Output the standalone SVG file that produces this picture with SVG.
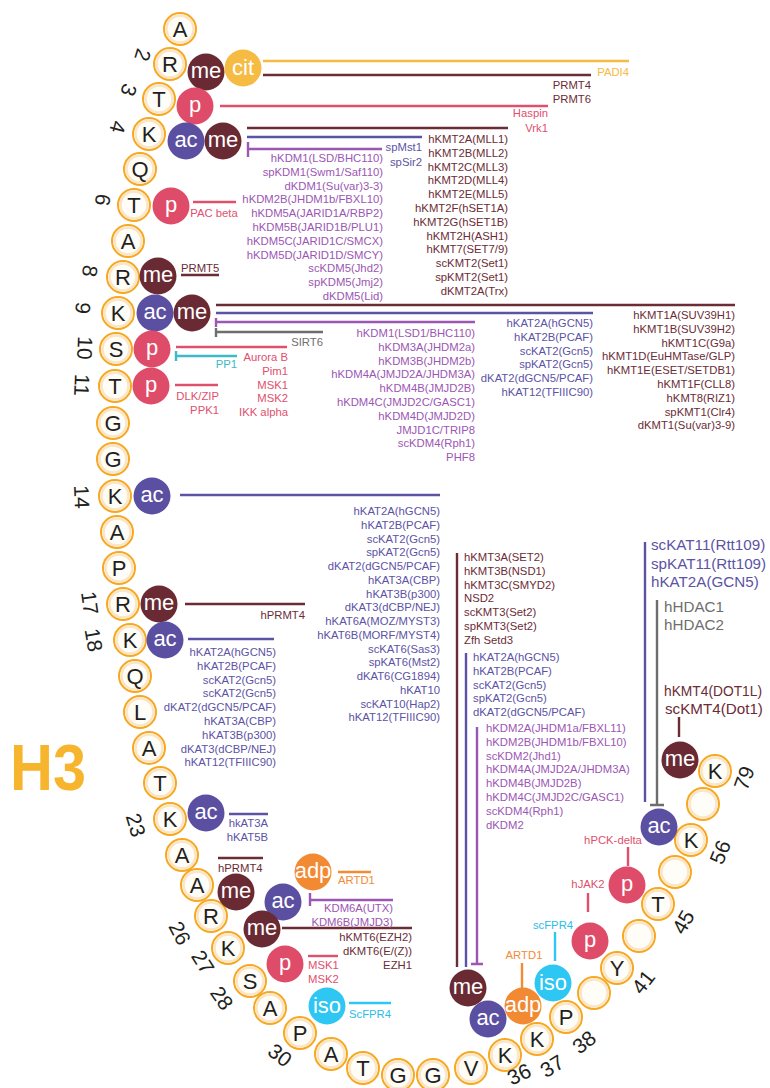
<svg xmlns="http://www.w3.org/2000/svg" xmlns:xlink="http://www.w3.org/1999/xlink" width="770" height="1088" viewBox="0 0 770 1088">
<style>
.ro{fill:#FFFDF8;stroke:#F6A821;stroke-width:2}
.ri{fill:none;stroke:#FCE5C4;stroke-width:2.5}
.rl{font-family:"Liberation Sans",Arial,sans-serif;font-size:22px;fill:#231F20;text-anchor:middle}
.num{font-family:"Liberation Sans",Arial,sans-serif;font-size:21px;fill:#231F20;text-anchor:middle;dominant-baseline:central}
.mt{font-family:"Liberation Sans",Arial,sans-serif;font-size:22px;fill:#fff;text-anchor:middle}
.me{fill:#692A33}.ac{fill:#5B4FA1}.p{fill:#DE4C69}.cit{fill:#F6BB43}.adp{fill:#F28A34}.iso{fill:#2EC6F2}
.lbl{font-family:"Liberation Sans",Arial,sans-serif;font-size:11.3px}
.big{font-family:"Liberation Sans",Arial,sans-serif;font-size:15.2px}
.e{text-anchor:end}.m{text-anchor:middle}
.tm{fill:#6B2C35}.tp{fill:#5C53A5}.tl{fill:#9C56B4}.tr{fill:#E0506D}.tg{fill:#6E6E6E}.tc{fill:#2BBDE8}.tt{fill:#3CBAC6}.to{fill:#F28B33}.ty{fill:#F6BB42}
.c{fill:none;stroke-width:2.4}
.sm{stroke:#6B2C35}.sp{stroke:#5C53A5}.sl{stroke:#9C56B4}.sr{stroke:#E0506D}.sg{stroke:#6E6E6E}.sc{stroke:#2EC6F2}.st{stroke:#3CBAC6}.so{stroke:#F28B33}.sy{stroke:#F6BB42}
</style>
<defs>
<g id="ring"><circle class="ro" r="16"/><circle class="ri" r="13.5"/></g>
</defs>

<text id="title" x="10" y="790" font-family="Liberation Sans, Arial, sans-serif" font-weight="bold" font-size="64" fill="#F7B52D" textLength="76" lengthAdjust="spacingAndGlyphs">H3</text>

<g id="residues">
<g id="r1"><use xlink:href="#ring" x="180" y="29"/><text class="rl" x="180" y="37">A</text></g>
<g id="r2"><use xlink:href="#ring" x="170" y="64"/><text class="rl" x="170" y="72">R</text><text class="num" x="143" y="55" transform="rotate(107 143 55)">2</text></g>
<g id="r3"><use xlink:href="#ring" x="159" y="99"/><text class="rl" x="159" y="107">T</text><text class="num" x="129" y="90" transform="rotate(107 129 90)">3</text></g>
<g id="r4"><use xlink:href="#ring" x="149" y="134"/><text class="rl" x="149" y="142">K</text><text class="num" x="118" y="127" transform="rotate(105 118 127)">4</text></g>
<g id="r5"><use xlink:href="#ring" x="140" y="169"/><text class="rl" x="140" y="177">Q</text></g>
<g id="r6"><use xlink:href="#ring" x="134" y="205"/><text class="rl" x="134" y="213">T</text><text class="num" x="103" y="200" transform="rotate(99 103 200)">6</text></g>
<g id="r7"><use xlink:href="#ring" x="128" y="241"/><text class="rl" x="128" y="249">A</text></g>
<g id="r8"><use xlink:href="#ring" x="123" y="277"/><text class="rl" x="123" y="285">R</text><text class="num" x="90" y="271" transform="rotate(98 90 271)">8</text></g>
<g id="r9"><use xlink:href="#ring" x="118" y="313"/><text class="rl" x="118" y="321">K</text><text class="num" x="83" y="308" transform="rotate(96 83 308)">9</text></g>
<g id="r10"><use xlink:href="#ring" x="116" y="349"/><text class="rl" x="116" y="357">S</text><text class="num" x="85" y="348" transform="rotate(92 85 348)">10</text></g>
<g id="r11"><use xlink:href="#ring" x="115" y="386"/><text class="rl" x="115" y="394">T</text><text class="num" x="82" y="385" transform="rotate(92 82 385)">11</text></g>
<g id="r12"><use xlink:href="#ring" x="113" y="423"/><text class="rl" x="113" y="431">G</text></g>
<g id="r13"><use xlink:href="#ring" x="113" y="459"/><text class="rl" x="113" y="467">G</text></g>
<g id="r14"><use xlink:href="#ring" x="115" y="496"/><text class="rl" x="115" y="504">K</text><text class="num" x="82" y="497" transform="rotate(88 82 497)">14</text></g>
<g id="r15"><use xlink:href="#ring" x="117" y="532"/><text class="rl" x="117" y="540">A</text></g>
<g id="r16"><use xlink:href="#ring" x="119" y="568"/><text class="rl" x="119" y="576">P</text></g>
<g id="r17"><use xlink:href="#ring" x="123" y="604"/><text class="rl" x="123" y="612">R</text><text class="num" x="90" y="603" transform="rotate(82 90 603)">17</text></g>
<g id="r18"><use xlink:href="#ring" x="130" y="640"/><text class="rl" x="130" y="648">K</text><text class="num" x="94" y="640" transform="rotate(80 94 640)">18</text></g>
<g id="r19"><use xlink:href="#ring" x="135" y="676"/><text class="rl" x="135" y="684">Q</text></g>
<g id="r20"><use xlink:href="#ring" x="140" y="712"/><text class="rl" x="140" y="720">L</text></g>
<g id="r21"><use xlink:href="#ring" x="149" y="748"/><text class="rl" x="149" y="756">A</text></g>
<g id="r22"><use xlink:href="#ring" x="160" y="783"/><text class="rl" x="160" y="791">T</text></g>
<g id="r23"><use xlink:href="#ring" x="170" y="819"/><text class="rl" x="170" y="827">K</text><text class="num" x="136" y="825" transform="rotate(73 136 825)">23</text></g>
<g id="r24"><use xlink:href="#ring" x="182" y="855"/><text class="rl" x="182" y="863">A</text></g>
<g id="r25"><use xlink:href="#ring" x="197" y="885"/><text class="rl" x="197" y="893">A</text></g>
<g id="r26"><use xlink:href="#ring" x="211" y="916"/><text class="rl" x="211" y="924">R</text><text class="num" x="180" y="933" transform="rotate(62 180 933)">26</text></g>
<g id="r27"><use xlink:href="#ring" x="228" y="948"/><text class="rl" x="228" y="956">K</text><text class="num" x="203" y="962" transform="rotate(58 203 962)">27</text></g>
<g id="r28"><use xlink:href="#ring" x="250" y="981"/><text class="rl" x="250" y="989">S</text><text class="num" x="222" y="998" transform="rotate(55 222 998)">28</text></g>
<g id="r29"><use xlink:href="#ring" x="270" y="1008"/><text class="rl" x="270" y="1016">A</text></g>
<g id="r30"><use xlink:href="#ring" x="300" y="1033"/><text class="rl" x="300" y="1041">P</text><text class="num" x="280" y="1055" transform="rotate(38 280 1055)">30</text></g>
<g id="r31"><use xlink:href="#ring" x="331" y="1054"/><text class="rl" x="331" y="1062">A</text></g>
<g id="r32"><use xlink:href="#ring" x="363" y="1068"/><text class="rl" x="363" y="1076">T</text></g>
<g id="r33"><use xlink:href="#ring" x="398" y="1075"/><text class="rl" x="398" y="1083">G</text></g>
<g id="r34"><use xlink:href="#ring" x="433" y="1075"/><text class="rl" x="433" y="1083">G</text></g>
<g id="r35"><use xlink:href="#ring" x="471" y="1068"/><text class="rl" x="471" y="1076">V</text></g>
<g id="r36"><use xlink:href="#ring" x="505" y="1055"/><text class="rl" x="505" y="1063">K</text><text class="num" x="519" y="1074" transform="rotate(-25 519 1074)">36</text></g>
<g id="r37"><use xlink:href="#ring" x="537" y="1039"/><text class="rl" x="537" y="1047">K</text><text class="num" x="552" y="1066" transform="rotate(-32 552 1066)">37</text></g>
<g id="r38"><use xlink:href="#ring" x="566" y="1017"/><text class="rl" x="566" y="1025">P</text><text class="num" x="584" y="1042" transform="rotate(-38 584 1042)">38</text></g>
<g id="gap1"><use xlink:href="#ring" x="594" y="993"/></g>
<g id="r41"><use xlink:href="#ring" x="617" y="968"/><text class="rl" x="617" y="976">Y</text><text class="num" x="643" y="982" transform="rotate(-52 643 982)">41</text></g>
<g id="gap2"><use xlink:href="#ring" x="639" y="936"/></g>
<g id="r45"><use xlink:href="#ring" x="658" y="904"/><text class="rl" x="658" y="912">T</text><text class="num" x="683" y="922" transform="rotate(-60 683 922)">45</text></g>
<g id="gap3"><use xlink:href="#ring" x="675" y="872"/></g>
<g id="r56"><use xlink:href="#ring" x="691" y="840"/><text class="rl" x="691" y="848">K</text><text class="num" x="720" y="852" transform="rotate(-68 720 852)">56</text></g>
<g id="gap4"><use xlink:href="#ring" x="703" y="804"/></g>
<g id="r79"><use xlink:href="#ring" x="715" y="771"/><text class="rl" x="715" y="779">K</text><text class="num" x="744" y="778" transform="rotate(-70 744 778)">79</text></g>
</g>

<g id="connectors">
<path class="c sy" d="M263,61H629"/>
<path class="c sm" d="M263,75H591"/>
<path class="c sr" d="M220,106H548"/>
<path class="c sm" d="M247,128H508"/>
<path class="c sp" d="M247,137H422"/>
<path class="c sl" d="M248,149H382M248,142V157"/>
<path class="c sr" d="M193,202H236"/>
<path class="c sm" d="M181,275H219"/>
<path class="c sm" d="M216,305H735"/>
<path class="c sp" d="M216,313H593"/>
<path class="c sl" d="M216,322H475M216,318V327"/>
<path class="c sg" d="M216,332H323M216,328V337"/>
<path class="c sr" d="M176,347H287"/>
<path class="c st" d="M176,356H237M176,351V361"/>
<path class="c sr" d="M175,385H218"/>
<path class="c sp" d="M180,495H440"/>
<path class="c sm" d="M185,604H305"/>
<path class="c sp" d="M188,639H274"/>
<path class="c sp" d="M229,814H268"/>
<path class="c sm" d="M218,858H263"/>
<path class="c so" d="M338,872H371"/>
<path class="c sl" d="M310,900H393M310,893V906"/>
<path class="c sm" d="M282,928H412"/>
<path class="c sr" d="M308,956H338"/>
<path class="c sc" d="M349,1003H391"/>
<path class="c sm" d="M457,553V967"/>
<path class="c sp" d="M466,653V967"/>
<path class="c sl" d="M477,727V964M471,964H483"/>
<path class="c so" d="M522,963V988"/>
<path class="c sc" d="M555,932V961"/>
<path class="c sr" d="M588,893V912"/>
<path class="c sr" d="M628,847V866"/>
<path class="c sp" d="M645,542V802"/>
<path class="c sg" d="M657,600V805M650,805H664"/>
<path class="c sm" d="M679,717V737"/>
</g>

<g id="modifications">
<g id="m-R2me"><circle class="me" cx="206" cy="72" r="18.5"/><text class="mt" x="206" y="78">me</text></g>
<g id="m-R2cit"><circle class="cit" cx="243" cy="68" r="18.5"/><text class="mt" x="243" y="75">cit</text></g>
<g id="m-T3p"><circle class="p" cx="195" cy="106" r="18.5"/><text class="mt" x="195" y="112">p</text></g>
<g id="m-K4ac"><circle class="ac" cx="186" cy="141" r="18.5"/><text class="mt" x="186" y="147">ac</text></g>
<g id="m-K4me"><circle class="me" cx="223" cy="141" r="18.5"/><text class="mt" x="223" y="147">me</text></g>
<g id="m-T6p"><circle class="p" cx="171" cy="206" r="18.5"/><text class="mt" x="171" y="212">p</text></g>
<g id="m-R8me"><circle class="me" cx="158" cy="276" r="18.5"/><text class="mt" x="158" y="282">me</text></g>
<g id="m-K9ac"><circle class="ac" cx="155" cy="313" r="18.5"/><text class="mt" x="155" y="319">ac</text></g>
<g id="m-K9me"><circle class="me" cx="192" cy="313" r="18.5"/><text class="mt" x="192" y="319">me</text></g>
<g id="m-S10p"><circle class="p" cx="152" cy="349" r="18.5"/><text class="mt" x="152" y="355">p</text></g>
<g id="m-T11p"><circle class="p" cx="151" cy="386" r="18.5"/><text class="mt" x="151" y="392">p</text></g>
<g id="m-K14ac"><circle class="ac" cx="152" cy="496" r="18.5"/><text class="mt" x="152" y="502">ac</text></g>
<g id="m-R17me"><circle class="me" cx="159" cy="604" r="18.5"/><text class="mt" x="159" y="610">me</text></g>
<g id="m-K18ac"><circle class="ac" cx="165" cy="640" r="18.5"/><text class="mt" x="165" y="646">ac</text></g>
<g id="m-K23ac"><circle class="ac" cx="206" cy="813" r="18.5"/><text class="mt" x="206" y="819">ac</text></g>
<g id="m-R26me"><circle class="me" cx="236" cy="892" r="18.5"/><text class="mt" x="236" y="898">me</text></g>
<g id="m-K27adp"><circle class="adp" cx="313" cy="872" r="18.5"/><text class="mt" x="313" y="878" font-size="20">adp</text></g>
<g id="m-K27ac"><circle class="ac" cx="283" cy="902" r="18.5"/><text class="mt" x="283" y="908">ac</text></g>
<g id="m-K27me"><circle class="me" cx="262" cy="929" r="18.5"/><text class="mt" x="262" y="935">me</text></g>
<g id="m-S28p"><circle class="p" cx="285" cy="964" r="18.5"/><text class="mt" x="285" y="970">p</text></g>
<g id="m-P30iso"><circle class="iso" cx="327" cy="1006" r="18.5"/><text class="mt" x="327" y="1013">iso</text></g>
<g id="m-K36me"><circle class="me" cx="468" cy="988" r="18.5"/><text class="mt" x="468" y="994">me</text></g>
<g id="m-K36ac"><circle class="ac" cx="488" cy="1019" r="18.5"/><text class="mt" x="488" y="1025">ac</text></g>
<g id="m-K37adp"><circle class="adp" cx="523" cy="1006" r="18.5"/><text class="mt" x="523" y="1012" font-size="20">adp</text></g>
<g id="m-P38iso"><circle class="iso" cx="553" cy="983" r="18.5"/><text class="mt" x="553" y="990">iso</text></g>
<g id="m-Y41p"><circle class="p" cx="590" cy="941" r="18.5"/><text class="mt" x="590" y="947">p</text></g>
<g id="m-T45p"><circle class="p" cx="627" cy="885" r="18.5"/><text class="mt" x="627" y="891">p</text></g>
<g id="m-K56ac"><circle class="ac" cx="659" cy="827" r="18.5"/><text class="mt" x="659" y="833">ac</text></g>
<g id="m-K79me"><circle class="me" cx="680" cy="760" r="18.5"/><text class="mt" x="680" y="766">me</text></g>
</g>

<g id="labels">
<text class="lbl e ty" x="629" y="76">PADI4</text>
<text class="lbl e tm" x="591" y="89"><tspan x="591">PRMT4</tspan><tspan x="591" dy="14">PRMT6</tspan></text>
<text class="lbl e tr" x="548" y="117"><tspan x="548">Haspin</tspan><tspan x="548" dy="14.5">Vrk1</tspan></text>
<text class="lbl e tm" x="508" y="143"><tspan x="508">hKMT2A(MLL1)</tspan><tspan x="508" dy="13.8">hKMT2B(MLL2)</tspan><tspan x="508" dy="13.8">hKMT2C(MLL3)</tspan><tspan x="508" dy="13.8">hKMT2D(MLL4)</tspan><tspan x="508" dy="13.8">hKMT2E(MLL5)</tspan><tspan x="508" dy="13.8">hKMT2F(hSET1A)</tspan><tspan x="508" dy="13.8">hKMT2G(hSET1B)</tspan><tspan x="508" dy="13.8">hKMT2H(ASH1)</tspan><tspan x="508" dy="13.8">hKMT7(SET7/9)</tspan><tspan x="508" dy="13.8">scKMT2(Set1)</tspan><tspan x="508" dy="13.8">spKMT2(Set1)</tspan><tspan x="508" dy="13.8">dKMT2A(Trx)</tspan></text>
<text class="lbl e tp" x="422" y="151"><tspan x="422">spMst1</tspan><tspan x="422" dy="14.5">spSir2</tspan></text>
<text class="lbl e tl" x="383" y="162"><tspan x="383">hKDM1(LSD/BHC110)</tspan><tspan x="383" dy="13.8">spKDM1(Swm1/Saf110)</tspan><tspan x="383" dy="13.8">dKDM1(Su(var)3-3)</tspan><tspan x="383" dy="13.8">hKDM2B(JHDM1b/FBXL10)</tspan><tspan x="383" dy="13.8">hKDM5A(JARID1A/RBP2)</tspan><tspan x="383" dy="13.8">hKDM5B(JARID1B/PLU1)</tspan><tspan x="383" dy="13.8">hKDM5C(JARID1C/SMCX)</tspan><tspan x="383" dy="13.8">hKDM5D(JARID1D/SMCY)</tspan><tspan x="383" dy="13.8">scKDM5(Jhd2)</tspan><tspan x="383" dy="13.8">spKDM5(Jmj2)</tspan><tspan x="383" dy="13.8">dKDM5(Lid)</tspan></text>
<text class="lbl m tr" x="214" y="217">PAC beta</text>
<text class="lbl tm" x="181" y="272">PRMT5</text>
<text class="lbl e tg" x="323" y="346">SIRT6</text>
<text class="lbl e tp" x="593" y="327"><tspan x="593">hKAT2A(hGCN5)</tspan><tspan x="593" dy="13.8">hKAT2B(PCAF)</tspan><tspan x="593" dy="13.8">scKAT2(Gcn5)</tspan><tspan x="593" dy="13.8">spKAT2(Gcn5)</tspan><tspan x="593" dy="13.8">dKAT2(dGCN5/PCAF)</tspan><tspan x="593" dy="13.8">hKAT12(TFIIIC90)</tspan></text>
<text class="lbl e tl" x="475" y="337"><tspan x="475">hKDM1(LSD1/BHC110)</tspan><tspan x="475" dy="13.8">hKDM3A(JHDM2a)</tspan><tspan x="475" dy="13.8">hKDM3B(JHDM2b)</tspan><tspan x="475" dy="13.8">hKDM4A(JMJD2A/JHDM3A)</tspan><tspan x="475" dy="13.8">hKDM4B(JMJD2B)</tspan><tspan x="475" dy="13.8">hKDM4C(JMJD2C/GASC1)</tspan><tspan x="475" dy="13.8">hKDM4D(JMJD2D)</tspan><tspan x="475" dy="13.8">JMJD1C/TRIP8</tspan><tspan x="475" dy="13.8">scKDM4(Rph1)</tspan><tspan x="475" dy="13.8">PHF8</tspan></text>
<text class="lbl e tm" x="735" y="319"><tspan x="735">hKMT1A(SUV39H1)</tspan><tspan x="735" dy="13.8">hKMT1B(SUV39H2)</tspan><tspan x="735" dy="13.8">hKMT1C(G9a)</tspan><tspan x="735" dy="13.8">hKMT1D(EuHMTase/GLP)</tspan><tspan x="735" dy="13.8">hKMT1E(ESET/SETDB1)</tspan><tspan x="735" dy="13.8">hKMT1F(CLL8)</tspan><tspan x="735" dy="13.8">hKMT8(RIZ1)</tspan><tspan x="735" dy="13.8">spKMT1(Clr4)</tspan><tspan x="735" dy="13.8">dKMT1(Su(var)3-9)</tspan></text>
<text class="lbl e tt" x="237" y="368">PP1</text>
<text class="lbl e tr" x="288" y="361"><tspan x="288">Aurora B</tspan><tspan x="288" dy="13.8">Pim1</tspan><tspan x="288" dy="13.8">MSK1</tspan><tspan x="288" dy="13.8">MSK2</tspan><tspan x="288" dy="13.8">IKK alpha</tspan></text>
<text class="lbl e tr" x="219" y="400"><tspan x="219">DLK/ZIP</tspan><tspan x="219" dy="13.8">PPK1</tspan></text>
<text class="lbl e tp" x="440" y="515"><tspan x="440">hKAT2A(hGCN5)</tspan><tspan x="440" dy="13.75">hKAT2B(PCAF)</tspan><tspan x="440" dy="13.75">scKAT2(Gcn5)</tspan><tspan x="440" dy="13.75">spKAT2(Gcn5)</tspan><tspan x="440" dy="13.75">dKAT2(dGCN5/PCAF)</tspan><tspan x="440" dy="13.75">hKAT3A(CBP)</tspan><tspan x="440" dy="13.75">hKAT3B(p300)</tspan><tspan x="440" dy="13.75">dKAT3(dCBP/NEJ)</tspan><tspan x="440" dy="13.75">hKAT6A(MOZ/MYST3)</tspan><tspan x="440" dy="13.75">hKAT6B(MORF/MYST4)</tspan><tspan x="440" dy="13.75">scKAT6(Sas3)</tspan><tspan x="440" dy="13.75">spKAT6(Mst2)</tspan><tspan x="440" dy="13.75">dKAT6(CG1894)</tspan><tspan x="440" dy="13.75">hKAT10</tspan><tspan x="440" dy="13.75">scKAT10(Hap2)</tspan><tspan x="440" dy="13.75">hKAT12(TFIIIC90)</tspan></text>
<text class="lbl e tm" x="305" y="619">hPRMT4</text>
<text class="lbl e tp" x="276" y="656"><tspan x="276">hKAT2A(hGCN5)</tspan><tspan x="276" dy="13.8">hKAT2B(PCAF)</tspan><tspan x="276" dy="13.8">scKAT2(Gcn5)</tspan><tspan x="276" dy="13.8">scKAT2(Gcn5)</tspan><tspan x="276" dy="13.8">dKAT2(dGCN5/PCAF)</tspan><tspan x="276" dy="13.8">hKAT3A(CBP)</tspan><tspan x="276" dy="13.8">hKAT3B(p300)</tspan><tspan x="276" dy="13.8">dKAT3(dCBP/NEJ)</tspan><tspan x="276" dy="13.8">hKAT12(TFIIIC90)</tspan></text>
<text class="lbl e tp" x="268" y="827"><tspan x="268">hkAT3A</tspan><tspan x="268" dy="14">hKAT5B</tspan></text>
<text class="lbl tm" x="218" y="872">hPRMT4</text>
<text class="lbl to" x="338" y="884">ARTD1</text>
<text class="lbl e tl" x="393" y="912"><tspan x="393">KDM6A(UTX)</tspan><tspan x="393" dy="14">KDM6B(JMJD3)</tspan></text>
<text class="lbl e tm" x="412" y="941"><tspan x="412">hKMT6(EZH2)</tspan><tspan x="412" dy="13.8">dKMT6(E/(Z))</tspan><tspan x="412" dy="13.8">EZH1</tspan></text>
<text class="lbl tr" x="308" y="969"><tspan x="308">MSK1</tspan><tspan x="308" dy="14">MSK2</tspan></text>
<text class="lbl tc" x="349" y="1018">ScFPR4</text>
<text class="lbl tm" x="464" y="561"><tspan x="464">hKMT3A(SET2)</tspan><tspan x="464" dy="13.8">hKMT3B(NSD1)</tspan><tspan x="464" dy="13.8">hKMT3C(SMYD2)</tspan><tspan x="464" dy="13.8">NSD2</tspan><tspan x="464" dy="13.8">scKMT3(Set2)</tspan><tspan x="464" dy="13.8">spKMT3(Set2)</tspan><tspan x="464" dy="13.8">Zfh Setd3</tspan></text>
<text class="lbl tp" x="473" y="661"><tspan x="473">hKAT2A(hGCN5)</tspan><tspan x="473" dy="13.8">hKAT2B(PCAF)</tspan><tspan x="473" dy="13.8">scKAT2(Gcn5)</tspan><tspan x="473" dy="13.8">spKAT2(Gcn5)</tspan><tspan x="473" dy="13.8">dKAT2(dGCN5/PCAF)</tspan></text>
<text class="lbl tl" x="486" y="732"><tspan x="486">hKDM2A(JHDM1a/FBXL11)</tspan><tspan x="486" dy="13.8">hKDM2B(JHDM1b/FBXL10)</tspan><tspan x="486" dy="13.8">scKDM2(Jhd1)</tspan><tspan x="486" dy="13.8">hKDM4A(JMJD2A/JHDM3A)</tspan><tspan x="486" dy="13.8">hKDM4B(JMJD2B)</tspan><tspan x="486" dy="13.8">hKDM4C(JMJD2C/GASC1)</tspan><tspan x="486" dy="13.8">scKDM4(Rph1)</tspan><tspan x="486" dy="13.8">dKDM2</tspan></text>
<text class="lbl m to" x="524" y="959">ARTD1</text>
<text class="lbl m tc" x="553" y="929">scFPR4</text>
<text class="lbl m tr" x="588" y="888">hJAK2</text>
<text class="lbl m tr" x="613" y="844">hPCK-delta</text>
<text class="big tp" x="651" y="550"><tspan x="651">scKAT11(Rtt109)</tspan><tspan x="651" dy="18.5">spKAT11(Rtt109)</tspan><tspan x="651" dy="18.5">hKAT2A(GCN5)</tspan></text>
<text class="big tg" x="664" y="612"><tspan x="664">hHDAC1</tspan><tspan x="664" dy="18">hHDAC2</tspan></text>
<text class="big tm" x="664" y="696" textLength="98" lengthAdjust="spacingAndGlyphs">hKMT4(DOT1L)</text>
<text class="big tm" x="665" y="714">scKMT4(Dot1)</text>
</g>
</svg>
